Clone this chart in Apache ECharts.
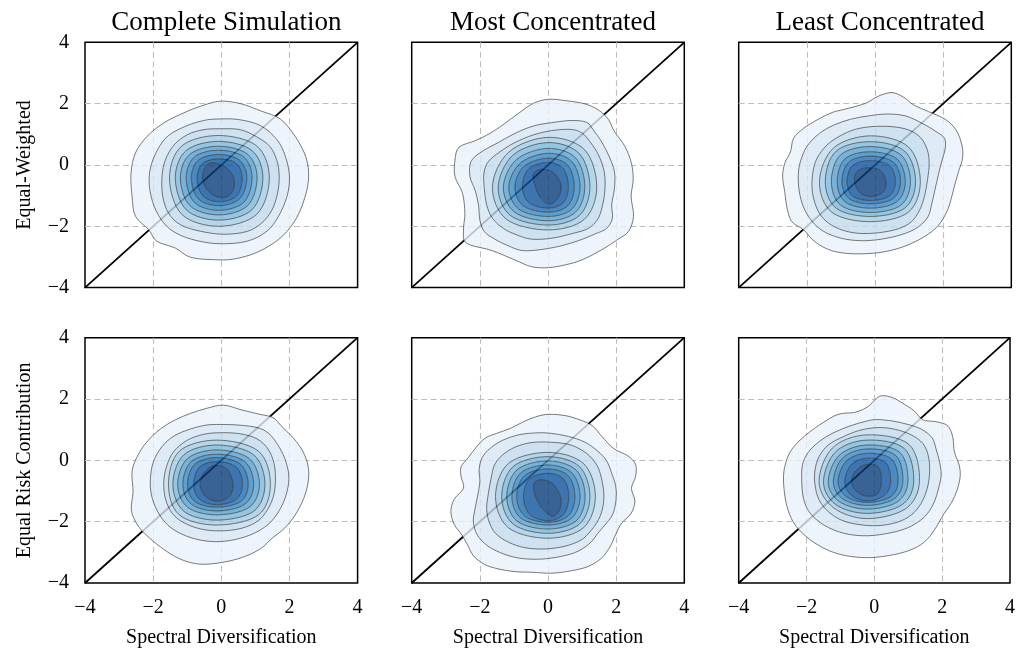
<!DOCTYPE html>
<html><head><meta charset="utf-8">
<script src="https://cdn.jsdelivr.net/npm/echarts@6/dist/echarts.min.js"></script>
<style>html,body{margin:0;padding:0;background:#fff}#c{width:1018px;height:650px}</style>
</head><body><div id="c"></div>
<script>
const colTitles = ['Complete Simulation', 'Most Concentrated', 'Least Concentrated'];
const rowLabels = ['Equal-Weighted', 'Equal Risk Contribution'];
const xAxisLabel = 'Spectral Diversification';
const axisMin = -4, axisMax = 4, axisStep = 2;
const diagonal = [[-4, -4], [4, 4]];

// Contour levels (outer -> inner), each a closed ring of [x, y] pairs in data units
const ewComplete = [
  [-0.03,2.08, 0.56,2.0, 1.19,1.75, 1.73,1.5, 2.17,0.93, 2.49,0.23, 2.56,-0.48, 2.40,-1.24, 2.12,-1.89, 1.68,-2.43, 1.05,-2.85, 0.36,-3.07, -0.22,-3.09, -0.91,-3.01, -1.35,-2.71, -1.89,-2.49, -2.13,-2.11, -2.52,-1.67, -2.62,-1.02, -2.65,-0.26, -2.52,0.39, -2.18,0.93, -1.69,1.37, -1.1,1.70, -0.57,1.93],
  [-0.03,1.5, 0.51,1.48, 1.14,1.29, 1.63,0.83, 1.88,0.28, 2.0,-0.37, 1.93,-1.02, 1.68,-1.67, 1.34,-2.16, 0.75,-2.49, -0.03,-2.57, -0.71,-2.47, -1.30,-2.24, -1.69,-1.89, -1.97,-1.35, -2.11,-0.70, -2.08,-0.10, -1.87,0.5, -1.55,0.96, -1.01,1.28, -0.47,1.46],
  [-0.03,1.18, 0.56,1.15, 1.05,0.91, 1.42,0.61, 1.63,0.15, 1.70,-0.37, 1.65,-0.93, 1.49,-1.46, 1.19,-1.89, 0.75,-2.17, 0.07,-2.26, -0.62,-2.16, -1.20,-1.95, -1.55,-1.57, -1.72,-1.02, -1.74,-0.37, -1.64,0.17, -1.38,0.66, -0.99,0.99, -0.52,1.15],
  [-0.08,0.96, 1.04,0.62, 1.41,-0.42, 1.04,-1.61, -0.08,-2.0, -1.16,-1.61, -1.52,-0.42, -1.16,0.62],
  [-0.08,0.77, 0.90,0.47, 1.22,-0.42, 0.90,-1.46, -0.08,-1.80, -1.03,-1.46, -1.35,-0.42, -1.03,0.47],
  [-0.08,0.61, 0.77,0.35, 1.05,-0.42, 0.77,-1.33, -0.08,-1.63, -0.92,-1.33, -1.20,-0.42, -0.92,0.35],
  [-0.08,0.48, 0.66,0.26, 0.90,-0.42, 0.66,-1.22, -0.08,-1.48, -0.79,-1.22, -1.03,-0.42, -0.79,0.26],
  [-0.08,0.34, 0.54,0.15, 0.75,-0.42, 0.54,-1.10, -0.08,-1.33, -0.68,-1.10, -0.88,-0.42, -0.68,0.15],
  [-0.08,0.20, 0.44,0.05, 0.61,-0.42, 0.46,-1.0, -0.05,-1.20, -0.55,-1.0, -0.71,-0.42, -0.55,0.05],
  [-0.23,0.07, 0.17,-0.10, 0.38,-0.48, 0.32,-0.88, 0.05,-1.07, -0.32,-0.92, -0.55,-0.48, -0.46,-0.05]
];
const ewMost = [
  [0.01,2.14, 0.50,2.10, 1.09,1.99, 1.48,1.79, 1.77,1.49, 1.95,1.09, 2.26,0.60, 2.45,0.05, 2.50,-0.49, 2.44,-1.03, 2.51,-1.68, 2.36,-2.17, 2.06,-2.42, 1.57,-2.77, 0.99,-3.10, 0.50,-3.26, 0.01,-3.35, -0.48,-3.32, -0.97,-3.10, -1.65,-2.79, -2.39,-2.55, -2.48,-2.12, -2.44,-1.58, -2.51,-0.92, -2.73,-0.38, -2.73,0.16, -2.61,0.58, -2.14,0.79, -1.70,1.03, -1.26,1.36, -0.87,1.68, -0.43,2.01],
  [0.11,1.38, 0.69,1.45, 1.13,1.39, 1.33,1.14, 1.57,0.76, 1.79,0.29, 1.95,-0.22, 1.95,-0.76, 1.87,-1.30, 1.89,-1.74, 1.72,-2.07, 1.38,-2.25, 0.89,-2.47, 0.30,-2.66, -0.28,-2.77, -0.77,-2.79, -1.16,-2.64, -1.56,-2.42, -1.87,-2.17, -2.0,-1.79, -2.04,-1.30, -2.14,-0.82, -2.29,-0.38, -2.26,0.11, -1.95,0.43, -1.46,0.73, -0.97,1.03, -0.43,1.27],
  [0.11,1.12, 0.65,1.16, 0.99,1.05, 1.23,0.76, 1.48,0.33, 1.65,-0.22, 1.67,-0.82, 1.59,-1.36, 1.46,-1.77, 1.18,-2.07, 0.74,-2.23, 0.11,-2.39, -0.48,-2.42, -0.92,-2.28, -1.31,-2.07, -1.63,-1.74, -1.80,-1.30, -1.87,-0.76, -1.88,-0.27, -1.75,0.11, -1.41,0.43, -0.97,0.73, -0.43,0.98],
  [0,0.90, 1.07,0.50, 1.43,-0.71, 1.07,-1.77, 0,-2.12, -1.22,-1.77, -1.63,-0.71, -1.15,0.42],
  [0,0.73, 0.92,0.37, 1.23,-0.71, 0.92,-1.65, 0,-1.96, -1.10,-1.65, -1.46,-0.71, -1.03,0.32],
  [0,0.54, 0.81,0.23, 1.08,-0.71, 0.81,-1.54, 0,-1.82, -0.98,-1.54, -1.31,-0.71, -0.92,0.18],
  [0,0.38, 0.70,0.11, 0.94,-0.71, 0.70,-1.44, 0,-1.68, -0.86,-1.44, -1.15,-0.71, -0.81,0.06],
  [0,0.22, 0.58,-0.01, 0.77,-0.71, 0.58,-1.33, 0,-1.54, -0.73,-1.33, -0.97,-0.71, -0.70,-0.04],
  [0,0.08, 0.45,-0.12, 0.60,-0.71, 0.45,-1.23, 0,-1.41, -0.56,-1.23, -0.75,-0.71, -0.56,-0.12],
  [-0.19,-0.14, 0.16,-0.25, 0.38,-0.62, 0.32,-1.03, 0.06,-1.27, -0.21,-1.09, -0.38,-0.68, -0.43,-0.29]
];
const ewLeast = [
  [0.11,2.25, 0.50,2.36, 0.84,2.21, 1.13,1.96, 1.57,1.74, 2.06,1.49, 2.38,1.14, 2.55,0.65, 2.57,0.22, 2.45,-0.22, 2.34,-0.65, 2.24,-1.09, 2.11,-1.52, 1.87,-1.96, 1.57,-2.25, 1.18,-2.50, 0.69,-2.72, 0.11,-2.86, -0.58,-2.90, -1.16,-2.83, -1.55,-2.66, -1.85,-2.42, -2.09,-2.12, -2.44,-1.85, -2.58,-1.41, -2.65,-0.87, -2.71,-0.38, -2.65,0.05, -2.48,0.43, -2.39,0.87, -2.09,1.20, -1.70,1.47, -1.26,1.71, -0.77,1.85, -0.28,2.01],
  [-0.19,1.60, 0.35,1.66, 0.89,1.60, 1.38,1.36, 1.79,1.09, 2.04,0.87, 2.06,0.54, 1.97,0.16, 1.87,-0.27, 1.77,-0.76, 1.67,-1.25, 1.56,-1.68, 1.28,-2.01, 0.89,-2.23, 0.35,-2.39, -0.28,-2.47, -0.87,-2.42, -1.36,-2.25, -1.70,-2.01, -1.95,-1.68, -2.14,-1.25, -2.24,-0.71, -2.24,-0.16, -2.14,0.27, -1.97,0.65, -1.63,1.03, -1.21,1.30, -0.72,1.49],
  [-0.09,1.25, 0.50,1.25, 0.99,1.14, 1.33,0.90, 1.53,0.51, 1.59,0.05, 1.54,-0.49, 1.45,-1.03, 1.31,-1.47, 1.07,-1.85, 0.69,-2.08, 0.11,-2.21, -0.48,-2.23, -0.97,-2.12, -1.36,-1.90, -1.63,-1.58, -1.79,-1.14, -1.85,-0.71, -1.82,-0.22, -1.70,0.22, -1.41,0.65, -1.02,0.95, -0.58,1.16],
  [-0.14,0.95, 0.98,0.59, 1.33,-0.54, 0.98,-1.54, -0.14,-1.85, -1.27,-1.54, -1.63,-0.54, -1.22,0.55],
  [-0.14,0.76, 0.87,0.45, 1.19,-0.54, 0.87,-1.41, -0.14,-1.68, -1.14,-1.41, -1.46,-0.54, -1.14,0.45],
  [-0.14,0.60, 0.76,0.33, 1.04,-0.54, 0.76,-1.31, -0.14,-1.55, -1.01,-1.31, -1.28,-0.54, -1.01,0.33],
  [-0.14,0.43, 0.64,0.20, 0.89,-0.54, 0.64,-1.20, -0.14,-1.41, -0.88,-1.20, -1.11,-0.54, -0.88,0.20],
  [-0.14,0.29, 0.54,0.09, 0.75,-0.54, 0.54,-1.09, -0.14,-1.27, -0.77,-1.09, -0.97,-0.54, -0.77,0.09],
  [-0.14,0.14, 0.42,-0.02, 0.60,-0.54, 0.42,-1.01, -0.14,-1.16, -0.66,-1.01, -0.82,-0.54, -0.66,-0.02],
  [-0.23,-0.09, 0.16,-0.18, 0.32,-0.54, 0.25,-0.87, -0.09,-1.03, -0.43,-0.92, -0.60,-0.54, -0.53,-0.22]
];
const ercComplete = [
  [0.07,1.80, 0.61,1.64, 1.14,1.50, 1.52,1.39, 1.78,1.10, 2.12,0.72, 2.40,0.28, 2.55,-0.21, 2.55,-0.70, 2.42,-1.24, 2.17,-1.78, 1.85,-2.22, 1.49,-2.54, 1.19,-2.85, 0.75,-3.11, 0.17,-3.30, -0.52,-3.39, -1.01,-3.30, -1.40,-3.11, -1.79,-2.82, -2.18,-2.46, -2.47,-2.09, -2.64,-1.62, -2.59,-1.02, -2.62,-0.37, -2.47,0.12, -2.18,0.61, -1.79,1.02, -1.35,1.32, -0.91,1.53, -0.42,1.70],
  [-0.03,1.17, 0.51,1.15, 1.05,1.07, 1.39,0.88, 1.65,0.52, 1.86,0.07, 1.98,-0.48, 1.93,-1.02, 1.75,-1.54, 1.46,-2.0, 1.05,-2.33, 0.56,-2.54, -0.03,-2.65, -0.62,-2.60, -1.15,-2.41, -1.57,-2.11, -1.87,-1.67, -2.05,-1.13, -2.08,-0.59, -1.99,-0.04, -1.74,0.45, -1.38,0.80, -0.91,1.02, -0.44,1.15],
  [-0.03,0.90, 0.54,0.87, 1.05,0.70, 1.37,0.37, 1.54,-0.07, 1.59,-0.59, 1.54,-1.13, 1.36,-1.60, 1.07,-1.98, 0.58,-2.22, -0.03,-2.30, -0.60,-2.24, -1.09,-2.04, -1.43,-1.74, -1.63,-1.29, -1.69,-0.75, -1.61,-0.21, -1.40,0.28, -1.01,0.65, -0.52,0.85],
  [-0.13,0.66, 1.09,0.30, 1.44,-0.78, 1.09,-1.78, -0.13,-2.11, -1.23,-1.78, -1.55,-0.78, -1.23,0.30],
  [-0.13,0.50, 0.95,0.18, 1.28,-0.78, 0.95,-1.66, -0.13,-1.95, -1.10,-1.66, -1.42,-0.78, -1.10,0.18],
  [-0.13,0.34, 0.82,0.06, 1.12,-0.78, 0.82,-1.53, -0.13,-1.78, -0.99,-1.53, -1.28,-0.78, -0.99,0.06],
  [-0.13,0.20, 0.69,-0.04, 0.95,-0.78, 0.69,-1.43, -0.13,-1.65, -0.88,-1.43, -1.13,-0.78, -0.88,-0.04],
  [-0.13,0.09, 0.57,-0.13, 0.79,-0.78, 0.57,-1.34, -0.13,-1.53, -0.78,-1.34, -0.99,-0.78, -0.78,-0.13],
  [-0.13,-0.04, 0.44,-0.22, 0.62,-0.78, 0.44,-1.27, -0.13,-1.45, -0.64,-1.27, -0.81,-0.78, -0.64,-0.22],
  [-0.22,-0.17, 0.17,-0.28, 0.34,-0.75, 0.26,-1.15, -0.08,-1.33, -0.44,-1.20, -0.62,-0.83, -0.52,-0.42]
];
const ercMost = [
  [0.01,1.50, 0.50,1.46, 0.94,1.32, 1.30,1.13, 1.59,0.77, 1.92,0.39, 2.34,0.15, 2.57,-0.13, 2.57,-0.53, 2.45,-0.91, 2.55,-1.33, 2.44,-1.73, 2.16,-2.05, 1.99,-2.41, 1.82,-2.82, 1.56,-3.20, 1.18,-3.46, 0.69,-3.60, 0.11,-3.68, -0.48,-3.65, -0.97,-3.63, -1.46,-3.54, -1.87,-3.39, -2.19,-3.11, -2.36,-2.76, -2.53,-2.43, -2.75,-2.09, -2.85,-1.67, -2.75,-1.26, -2.48,-0.91, -2.55,-0.53, -2.55,-0.21, -2.34,0.09, -2.12,0.41, -1.85,0.72, -1.51,0.88, -1.11,1.04, -0.72,1.26, -0.36,1.42],
  [0.01,0.89, 0.60,0.78, 1.09,0.59, 1.46,0.30, 1.72,-0.02, 1.87,-0.42, 1.99,-0.86, 1.99,-1.35, 1.89,-1.78, 1.67,-2.11, 1.46,-2.38, 1.26,-2.67, 0.89,-2.96, 0.40,-3.13, -0.19,-3.22, -0.77,-3.20, -1.26,-3.07, -1.73,-2.82, -2.06,-2.46, -2.19,-2.02, -2.14,-1.57, -2.06,-1.13, -2.0,-0.70, -2.02,-0.28, -1.93,0.09, -1.70,0.39, -1.34,0.65, -0.87,0.83, -0.43,0.89],
  [0.11,0.59, 0.67,0.50, 1.13,0.23, 1.43,-0.15, 1.57,-0.59, 1.64,-1.13, 1.59,-1.62, 1.44,-2.02, 1.23,-2.33, 0.97,-2.60, 0.50,-2.80, -0.09,-2.89, -0.67,-2.85, -1.16,-2.67, -1.54,-2.38, -1.73,-2.0, -1.80,-1.57, -1.75,-1.08, -1.67,-0.59, -1.57,-0.15, -1.34,0.17, -0.97,0.43, -0.48,0.58],
  [-0.01,0.26, 1.04,-0.10, 1.39,-1.18, 1.04,-2.20, -0.01,-2.54, -1.16,-2.20, -1.54,-1.18, -1.16,-0.10],
  [-0.01,0.12, 0.92,-0.20, 1.23,-1.18, 0.92,-2.08, -0.01,-2.38, -1.02,-2.08, -1.36,-1.18, -1.02,-0.20],
  [-0.01,-0.02, 0.82,-0.31, 1.09,-1.18, 0.82,-1.98, -0.01,-2.24, -0.91,-1.98, -1.21,-1.18, -0.91,-0.31],
  [-0.01,-0.15, 0.70,-0.41, 0.94,-1.18, 0.70,-1.88, -0.01,-2.11, -0.80,-1.88, -1.06,-1.18, -0.80,-0.41],
  [-0.01,-0.28, 0.59,-0.50, 0.79,-1.18, 0.59,-1.81, -0.01,-2.02, -0.69,-1.81, -0.92,-1.18, -0.69,-0.50],
  [-0.01,-0.42, 0.46,-0.61, 0.61,-1.18, 0.46,-1.76, 0.0,-1.97, -0.54,-1.76, -0.72,-1.18, -0.54,-0.61],
  [-0.19,-0.63, 0.16,-0.78, 0.38,-1.24, 0.32,-1.65, 0.11,-1.82, -0.19,-1.54, -0.40,-1.08, -0.40,-0.74]
];
const ercLeast = [
  [0.25,2.11, 0.55,2.04, 0.84,1.86, 1.18,1.61, 1.43,1.32, 1.82,1.26, 2.16,1.13, 2.31,0.77, 2.36,0.28, 2.50,-0.15, 2.53,-0.53, 2.44,-0.97, 2.28,-1.37, 2.06,-1.73, 1.87,-2.09, 1.65,-2.46, 1.36,-2.76, 0.97,-2.96, 0.50,-3.09, -0.09,-3.17, -0.67,-3.14, -1.21,-3.0, -1.63,-2.78, -1.95,-2.54, -2.24,-2.24, -2.45,-1.89, -2.61,-1.35, -2.68,-0.64, -2.63,-0.15, -2.48,0.28, -2.22,0.63, -1.90,0.93, -1.54,1.21, -1.07,1.50, -0.56,1.57, -0.19,1.75, 0.06,2.02],
  [0.06,1.33, 0.55,1.28, 0.99,1.17, 1.38,1.02, 1.70,0.74, 1.82,0.37, 1.92,-0.04, 1.97,-0.48, 1.89,-0.93, 1.77,-1.35, 1.57,-1.73, 1.28,-2.02, 0.89,-2.24, 0.40,-2.38, -0.19,-2.46, -0.77,-2.41, -1.26,-2.24, -1.63,-2.0, -1.93,-1.67, -2.09,-1.24, -2.14,-0.70, -2.12,-0.15, -1.95,0.26, -1.63,0.61, -1.24,0.88, -0.77,1.10, -0.30,1.26],
  [0.11,1.07, 0.62,1.01, 1.09,0.83, 1.43,0.55, 1.59,0.15, 1.63,-0.37, 1.56,-0.91, 1.38,-1.40, 1.09,-1.78, 0.67,-2.02, 0.11,-2.13, -0.48,-2.09, -0.97,-1.95, -1.36,-1.67, -1.63,-1.29, -1.75,-0.80, -1.75,-0.32, -1.63,0.12, -1.36,0.50, -0.92,0.77, -0.43,0.98],
  [-0.23,0.83, 1.02,0.52, 1.33,-0.70, 0.92,-1.58, -0.23,-1.90, -1.21,-1.54, -1.63,-0.70, -1.24,0.40],
  [-0.23,0.66, 0.88,0.39, 1.16,-0.70, 0.80,-1.46, -0.23,-1.73, -1.14,-1.44, -1.50,-0.70, -1.14,0.28],
  [-0.23,0.50, 0.75,0.26, 0.99,-0.70, 0.67,-1.36, -0.23,-1.59, -1.04,-1.34, -1.36,-0.70, -1.04,0.16],
  [-0.23,0.37, 0.63,0.16, 0.84,-0.70, 0.56,-1.27, -0.23,-1.47, -0.94,-1.25, -1.21,-0.70, -0.94,0.07],
  [-0.23,0.23, 0.51,0.04, 0.70,-0.70, 0.46,-1.20, -0.23,-1.37, -0.83,-1.18, -1.07,-0.70, -0.83,-0.03],
  [-0.23,0.07, 0.34,-0.08, 0.48,-0.70, 0.30,-1.14, -0.23,-1.33, -0.69,-1.13, -0.87,-0.70, -0.69,-0.15],
  [-0.23,-0.13, 0.11,-0.21, 0.21,-0.64, 0.11,-1.08, -0.19,-1.17, -0.50,-1.04, -0.67,-0.72, -0.56,-0.35]
];
const panelData = [ewComplete, ewMost, ewLeast, ercComplete, ercMost, ercLeast];

// Blues colormap, one colour per filled band (outer -> inner)
const bandColors = ['#e8f1fa', '#d6e6f4', '#c2d9ee', '#a2cae3', '#7bb6d9', '#569fce', '#3787c0', '#1d6cb1', '#0b539c', '#083b7b'];
const FILL_ALPHA = 0.8;

function rgba(hex, a) {
  const n = parseInt(hex.slice(1), 16);
  return 'rgba(' + ((n >> 16) & 255) + ',' + ((n >> 8) & 255) + ',' + (n & 255) + ',' + a + ')';
}
function ringPath(api, flat, reverse) {
  const P = [];
  for (let i = 0; i < flat.length; i += 2) P.push(api.coord([flat[i], flat[i + 1]]));
  if (reverse) P.reverse();
  const n = P.length, f = v => v.toFixed(2);
  let d = 'M' + f(P[0][0]) + ',' + f(P[0][1]);
  for (let i = 0; i < n; i++) {
    const p0 = P[(i - 1 + n) % n], p1 = P[i], p2 = P[(i + 1) % n], p3 = P[(i + 2) % n];
    const c1x = p1[0] + (p2[0] - p0[0]) / 6, c1y = p1[1] + (p2[1] - p0[1]) / 6;
    const c2x = p2[0] - (p3[0] - p1[0]) / 6, c2y = p2[1] - (p3[1] - p1[1]) / 6;
    d += 'C' + f(c1x) + ',' + f(c1y) + ' ' + f(c2x) + ',' + f(c2y) + ' ' + f(p2[0]) + ',' + f(p2[1]);
  }
  return d + 'Z';
}

const lefts = [85, 411.7, 738.7], tops = [42.3, 337.7], W = 272.6, H = 245.3;
const FONT = 'Liberation Serif';
const minusFmt = v => (v < 0 ? '\u2212' + (-v) : String(v));

const grid = [], xAxis = [], yAxis = [], series = [];
for (let r = 0; r < 2; r++) {
  for (let c = 0; c < 3; c++) {
    const k = r * 3 + c;
    grid.push({ left: lefts[c], top: tops[r], width: W, height: H, show: true, borderColor: '#000', borderWidth: 1.5, backgroundColor: 'transparent' });
    const split = { show: true, showMinLine: false, showMaxLine: false, lineStyle: { color: '#bdbdbd', type: [6, 3.5], width: 1.1 } };
    xAxis.push({
      type: 'value', gridIndex: k, min: axisMin, max: axisMax, interval: axisStep,
      axisLine: { show: false }, axisTick: { show: false }, splitLine: split,
      axisLabel: { show: r === 1, formatter: minusFmt, fontFamily: FONT, fontSize: 20, color: '#000', margin: 15 },
      name: r === 1 ? xAxisLabel : '', nameLocation: 'middle', nameGap: 45,
      nameTextStyle: { fontFamily: FONT, fontSize: 20, color: '#000' }
    });
    yAxis.push({
      type: 'value', gridIndex: k, min: axisMin, max: axisMax, interval: axisStep,
      axisLine: { show: false }, axisTick: { show: false }, splitLine: split,
      axisLabel: { show: c === 0, formatter: minusFmt, fontFamily: FONT, fontSize: 20, color: '#000', margin: 16 },
      name: c === 0 ? rowLabels[r] : '', nameLocation: 'middle', nameGap: 50, nameRotate: 90,
      nameTextStyle: { fontFamily: FONT, fontSize: 20, color: '#000' }
    });
    series.push({
      type: 'line', xAxisIndex: k, yAxisIndex: k, data: diagonal, symbol: 'none', z: 1,
      lineStyle: { color: '#000', width: 1.8 }, silent: true
    });
    const levels = panelData[k];
    series.push({
      type: 'custom', xAxisIndex: k, yAxisIndex: k, z: 2, silent: true,
      data: levels.map(() => [0, 0]),
      renderItem: function (params, api) {
        const lv = params.dataIndex;
        let d = ringPath(api, levels[lv], false);
        if (lv + 1 < levels.length) d += ' ' + ringPath(api, levels[lv + 1], true);
        return {
          type: 'group', children: [
            { type: 'path', shape: { pathData: d }, style: { fill: rgba(bandColors[lv], FILL_ALPHA), stroke: null } },
            { type: 'path', shape: { pathData: ringPath(api, levels[lv], false) }, style: { fill: 'none', stroke: 'rgba(40,40,40,0.72)', lineWidth: 0.85 } }
          ]
        };
      }
    });
  }
}

const chart = echarts.init(document.getElementById('c'), null, { renderer: 'canvas' });
chart.setOption({
  animation: false,
  backgroundColor: '#fff',
  title: colTitles.map((t, i) => ({
    text: t, left: lefts[i] + W / 2, top: 4, textAlign: 'center',
    textStyle: { fontFamily: FONT, fontSize: 27, fontWeight: 'normal', color: '#000' }
  })),
  grid, xAxis, yAxis, series
});
</script></body></html>
